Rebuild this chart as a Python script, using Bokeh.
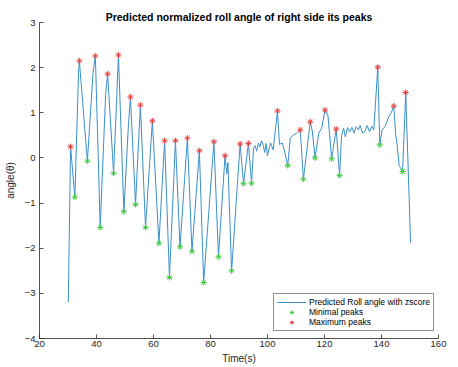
from bokeh.plotting import figure
from bokeh.models import Range1d, FixedTicker, Legend, LegendItem, Title
from bokeh.embed import file_html
from bokeh.resources import INLINE

# ---- data ----
time_s = [30.1, 30.9, 32.4, 33.7, 34.0, 34.3, 36.8, 38.8, 39.6, 41.3, 43.2, 43.9,
          46.0, 47.7, 49.6, 51.2, 51.9, 53.7, 55.4, 57.2, 59.6, 61.9, 63.9, 65.6,
          67.7, 69.3, 71.9, 73.5, 76.1, 77.6, 81.2, 82.8, 85.1, 85.7, 86.1, 87.4,
          90.4, 91.6, 93.3, 94.4, 95.1, 95.7, 96.2, 96.8, 97.3, 97.9, 98.5, 99.0,
          99.5, 100.0, 100.5, 101.1, 102.0, 103.5, 104.2, 105.2, 105.8, 107.1,
          108.0, 109.2, 110.2, 111.5, 112.6, 115.0, 115.7, 116.7, 118.0, 119.0,
          120.2, 121.2, 122.5, 124.1, 125.3, 126.0, 126.7, 127.3, 128.1, 128.9,
          129.6, 130.4, 131.1, 131.9, 132.5, 133.4, 134.3, 135.0, 135.8, 136.6,
          137.3, 138.7, 139.4, 140.2, 141.3, 142.6, 143.4, 144.3, 145.0, 145.5,
          146.2, 147.4, 148.5, 150.2]
angle = [-3.19, 0.25, -0.87, 1.90, 2.15, 1.90, -0.07, 1.90, 2.26, -1.54, 1.40, 1.86,
         -0.34, 2.28, -1.19, 0.73, 1.35, -1.03, 1.17, -1.54, 0.82, -1.89, 0.38, -2.65,
         0.38, -1.97, 0.44, -2.07, 0.16, -2.76, 0.36, -2.19, 0.05, -0.35, -0.10, -2.50,
         0.31, -0.57, 0.32, -0.56, 0.22, 0.27, 0.15, 0.33, 0.24, 0.38, 0.28, 0.12,
         0.32, 0.05, 0.20, 0.33, 0.18, 1.04, 0.30, 0.33, 0.20, -0.17,
         0.45, 0.51, 0.55, 0.62, -0.47, 0.80, 0.60, 0.00, 0.55, 0.66,
         1.06, 0.95, -0.02, 0.64, -0.39, 0.50, 0.66, 0.47, 0.67, 0.58,
         0.68, 0.55, 0.69, 0.62, 0.72, 0.55, 0.60, 0.72, 0.58, 0.70,
         0.62, 2.01, 0.29, 0.62, 0.70, 0.92, 1.00, 1.15, 0.50, 0.29,
         -0.17, -0.30, 1.45, -1.88]

min_t = [32.4, 36.8, 41.3, 46.0, 49.6, 53.7, 57.2, 61.9, 65.6, 69.3, 73.5, 77.6,
         82.8, 87.4, 91.6, 94.4, 107.1, 112.6, 116.7, 122.5, 125.3, 139.4, 147.4]
min_y = [-0.87, -0.07, -1.54, -0.34, -1.19, -1.03, -1.54, -1.89, -2.65, -1.97, -2.07, -2.76,
         -2.19, -2.50, -0.57, -0.56, -0.17, -0.47, 0.00, -0.02, -0.39, 0.29, -0.30]

max_t = [30.9, 34.0, 39.6, 43.9, 47.7, 51.9, 55.4, 59.6, 63.9, 67.7, 71.9, 76.1,
         81.2, 85.1, 90.4, 93.3, 103.5, 111.5, 115.0, 120.2, 124.1, 138.7, 144.3, 148.5]
max_y = [0.25, 2.15, 2.26, 1.86, 2.28, 1.35, 1.17, 0.82, 0.38, 0.38, 0.44, 0.16,
         0.36, 0.05, 0.31, 0.32, 1.04, 0.62, 0.80, 1.06, 0.64, 2.01, 1.15, 1.45]

x_ticks = [20, 40, 60, 80, 100, 120, 140, 160]
y_ticks = [-4, -3, -2, -1, 0, 1, 2, 3]

title_text = "Predicted normalized roll angle of right side its peaks"
x_label = "Time(s)"
y_label = "angle(\u03b8)"
legend_labels = ["Predicted Roll angle with zscore", "Minimal peaks", "Maximum peaks"]

FONT = "Liberation Sans"
AX = "#262626"

p = figure(width=458, height=367, output_backend="svg", toolbar_location=None,
           x_range=Range1d(20, 160), y_range=Range1d(-4, 3),
           min_border_left=39, min_border_right=20, min_border_top=22, min_border_bottom=29)
p.title.visible = False
p.add_layout(Title(text=title_text, align="center", text_font=FONT, text_font_size="10.5px",
                   text_font_style="bold", text_color="#000000", standoff=0, offset=0), "above")

p.outline_line_color = None
p.grid.visible = False
p.background_fill_color = "white"
p.border_fill_color = "white"

for ax, ticks in ((p.xaxis[0], x_ticks), (p.yaxis[0], y_ticks)):
    ax.ticker = FixedTicker(ticks=ticks)
    ax.minor_tick_line_color = None
    ax.major_tick_in = 4
    ax.major_tick_out = 0
    ax.axis_line_color = AX
    ax.major_tick_line_color = AX
    ax.axis_line_width = 0.8
    ax.major_tick_line_width = 0.8
    ax.major_label_text_font = FONT
    ax.major_label_text_font_size = "9.5px"
    ax.major_label_text_color = AX
    ax.axis_label_text_font = FONT
    ax.axis_label_text_font_size = "10px"
    ax.axis_label_text_font_style = "normal"
    ax.axis_label_text_color = AX

p.xaxis.axis_label = x_label
p.yaxis.axis_label = y_label
p.xaxis.major_label_standoff = 2
p.xaxis.axis_label_standoff = 3
p.yaxis.major_label_standoff = 4
p.yaxis.axis_label_standoff = 6

r_line = p.line(time_s, angle, line_color="#3a8fc8", line_width=1.0)
r_min = p.scatter(min_t, min_y, marker="asterisk", size=6, line_color="#45cc45", line_width=1.0)
r_max = p.scatter(max_t, max_y, marker="asterisk", size=6, line_color="#e8413f", line_width=1.0)

legend = Legend(items=[LegendItem(label=legend_labels[0], renderers=[r_line]),
                       LegendItem(label=legend_labels[1], renderers=[r_min]),
                       LegendItem(label=legend_labels[2], renderers=[r_max])],
                location=(234, 7), padding=3, spacing=0, margin=0,
                glyph_width=29, glyph_height=10, label_height=10, label_standoff=3,
                label_text_font=FONT, label_text_font_size="8.5px", label_text_color="#000000",
                border_line_color=AX, border_line_width=0.8, background_fill_alpha=1.0)
p.add_layout(legend, "center")

open("out.html", "w").write(file_html(p, INLINE))
